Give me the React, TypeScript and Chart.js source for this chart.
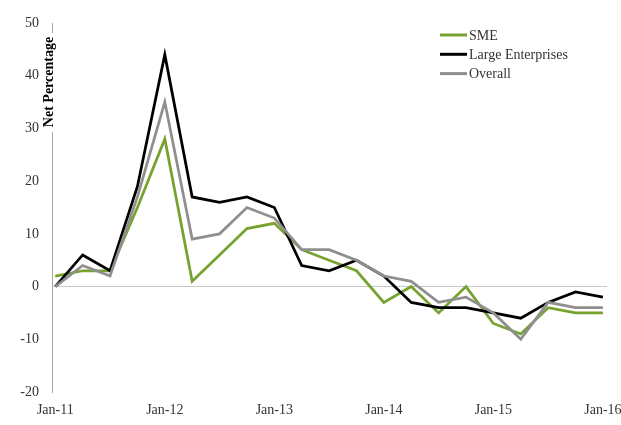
import React, { useEffect, useRef } from 'react';
import { Chart, registerables } from 'chart.js';

Chart.register(...registerables);

// Quarterly observations, Jan-11 .. Jan-16
const quarters = [
  'Jan-11', 'Apr-11', 'Jul-11', 'Oct-11',
  'Jan-12', 'Apr-12', 'Jul-12', 'Oct-12',
  'Jan-13', 'Apr-13', 'Jul-13', 'Oct-13',
  'Jan-14', 'Apr-14', 'Jul-14', 'Oct-14',
  'Jan-15', 'Apr-15', 'Jul-15', 'Oct-15',
  'Jan-16',
];
const tickLabels = ['Jan-11', 'Jan-12', 'Jan-13', 'Jan-14', 'Jan-15', 'Jan-16'];
const yTicks = [-20, -10, 0, 10, 20, 30, 40, 50];

const seriesNames = ['SME', 'Large Enterprises', 'Overall'];
const sme = [2, 3, 3, 15, 28, 1, 6, 11, 12, 7, 5, 3, -3, 0, -5, 0, -7, -9, -4, -5, -5];
const large = [0, 6, 3, 19, 44, 17, 16, 17, 15, 4, 3, 5, 2, -3, -4, -4, -5, -6, -3, -1, -2];
const overall = [0, 4, 2, 17, 35, 9, 10, 15, 13, 7, 7, 5, 2, 1, -3, -2, -5, -10, -3, -4, -4];

const yTitle = 'Net Percentage';
const FONT = '"Liberation Serif", "Times New Roman", serif';
const COLORS = ['#77a22f', '#000000', '#8f8f8f'];

const toPoints = (arr: number[]) => arr.map((v, i) => ({ x: i, y: v }));

const customPlugin = {
  id: 'customDecor',
  afterDraw(chart: any) {
    const ctx = chart.ctx as CanvasRenderingContext2D;
    // Y axis title placed inside the top of the axis line
    ctx.save();
    ctx.fillStyle = '#ffffff';
    ctx.fillRect(43, 33, 13, 99);
    ctx.translate(49, 82);
    ctx.rotate(-Math.PI / 2);
    ctx.font = `bold 14px ${FONT}`;
    ctx.fillStyle = '#000000';
    ctx.textAlign = 'center';
    ctx.textBaseline = 'middle';
    ctx.fillText(yTitle, 0, 0);
    ctx.restore();

    // Legend
    ctx.save();
    const ds = chart.data.datasets;
    ds.forEach((d: any, i: number) => {
      const y = 35 + i * 19.3;
      ctx.beginPath();
      ctx.strokeStyle = d.borderColor;
      ctx.lineWidth = 3;
      ctx.moveTo(440, y);
      ctx.lineTo(467, y);
      ctx.stroke();
      ctx.font = `14px ${FONT}`;
      ctx.fillStyle = '#333333';
      ctx.textAlign = 'left';
      ctx.textBaseline = 'middle';
      ctx.fillText(d.label, 469, y + 1);
    });
    ctx.restore();
  },
};

export default function App() {
  const ref = useRef<HTMLCanvasElement | null>(null);

  useEffect(() => {
    if (!ref.current) return;
    const allSeries = [sme, large, overall];
    const chart = new Chart(ref.current, {
      type: 'line',
      data: {
        datasets: allSeries.map((s, i) => ({
          label: seriesNames[i],
          data: toPoints(s),
          borderColor: COLORS[i],
          backgroundColor: COLORS[i],
          borderWidth: 2.75,
          pointRadius: 0,
          tension: 0,
          fill: false,
          order: 2 - i,
        })),
      },
      options: {
        animation: false,
        responsive: true,
        maintainAspectRatio: false,
        layout: { padding: { top: 23, right: 14, left: 0, bottom: 0 } },
        plugins: {
          legend: { display: false },
          title: { display: false },
          tooltip: { enabled: false },
        },
        scales: {
          x: {
            type: 'linear',
            min: -0.12,
            max: 20.15,
            grid: { display: false },
            border: { display: false },
            afterBuildTicks: (scale: any) => {
              scale.ticks = tickLabels.map((_, i) => ({ value: i * 4 }));
            },
            afterFit: (scale: any) => {
              scale.height = 33;
              scale.paddingLeft = 0;
              scale.paddingRight = 0;
            },
            ticks: {
              autoSkip: false,
              maxRotation: 0,
              minRotation: 0,
              padding: 2,
              color: '#333333',
              font: { family: FONT, size: 14 },
              callback: (v: any) => {
                const q = quarters[Math.round(Number(v))];
                return tickLabels.includes(q) ? q : '';
              },
            },
          },
          y: {
            min: -20,
            max: 50,
            afterBuildTicks: (scale: any) => {
              scale.ticks = yTicks.map((v) => ({ value: v }));
            },
            afterFit: (scale: any) => {
              scale.width = 52;
              scale.paddingTop = 0;
              scale.paddingBottom = 0;
            },
            border: { display: true, color: '#a6a6a6', width: 1 },
            grid: {
              drawTicks: false,
              color: (c: any) => (c.tick && c.tick.value === 0 ? '#c8c8c8' : 'rgba(0,0,0,0)'),
              lineWidth: 1,
            },
            ticks: {
              padding: 13,
              color: '#333333',
              font: { family: FONT, size: 14 },
            },
          },
        },
      },
      plugins: [customPlugin],
    } as any);
    return () => chart.destroy();
  }, []);

  return (
    <div style={{ position: 'fixed', left: 0, top: 0, width: 621, height: 425, background: '#fff' }}>
      <canvas ref={ref} />
    </div>
  );
}
